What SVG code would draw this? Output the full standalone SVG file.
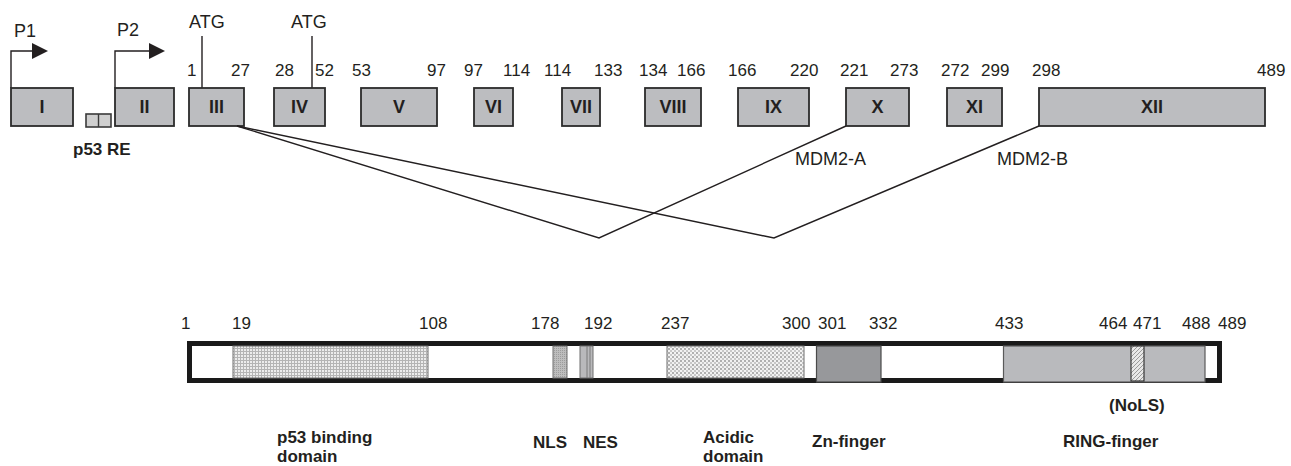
<svg xmlns="http://www.w3.org/2000/svg" width="1291" height="466" viewBox="0 0 1291 466">
<style>
.exon{fill:#bcbdc0;stroke:#2b2b2b;stroke-width:1.8}
.rn{font-family:"Liberation Sans",Arial,sans-serif;font-weight:bold;font-size:18px;fill:#231f20;text-anchor:middle}
.num{font-family:"Liberation Sans",Arial,sans-serif;font-size:17px;fill:#231f20}
.lbl{font-family:"Liberation Sans",Arial,sans-serif;font-size:18px;fill:#231f20}
.bl{font-family:"Liberation Sans",Arial,sans-serif;font-weight:bold;font-size:17px;fill:#231f20}
.ln{stroke:#231f20;stroke-width:1.4;fill:none}
.seg{stroke:#6e6e6e;stroke-width:1}
</style>
<defs>
<pattern id="grid" width="3" height="3" patternUnits="userSpaceOnUse">
<rect width="3" height="3" fill="#ececec"/>
<path d="M0 0.5H3M0.5 0V3" stroke="#b4b4b4" stroke-width="1"/>
</pattern>
<pattern id="check" width="4" height="4" patternUnits="userSpaceOnUse">
<rect width="4" height="4" fill="#f2f2f2"/>
<rect width="2" height="2" fill="#b0b0b0"/>
<rect x="2" y="2" width="2" height="2" fill="#c8c8c8"/>
</pattern>
<pattern id="hatch" width="4" height="4" patternUnits="userSpaceOnUse">
<rect width="4" height="4" fill="#e8e8e8"/>
<path d="M0 4L4 0M-1 1L1 -1M3 5L5 3" stroke="#9a9a9a" stroke-width="1"/>
</pattern>
<pattern id="dots" width="2" height="2" patternUnits="userSpaceOnUse">
<rect width="2" height="2" fill="#bdbdbd"/>
<rect width="1" height="1" fill="#9c9c9c"/>
</pattern>
</defs>

<g id="promoters">
<text class="lbl" x="14" y="37">P1</text>
<path class="ln" d="M11 88V51H32" stroke-width="1.6"/>
<path d="M32 43L48 51L32 59Z" fill="#231f20"/>
<text class="lbl" x="117" y="36">P2</text>
<path class="ln" d="M115 88V51H149" stroke-width="1.6"/>
<path d="M149 43L165 51L149 59Z" fill="#231f20"/>
</g>

<g id="atg">
<text class="lbl" x="189" y="28">ATG</text>
<line class="ln" x1="202" y1="36" x2="202" y2="88"/>
<text class="lbl" x="291" y="28">ATG</text>
<line class="ln" x1="312" y1="36" x2="312" y2="88"/>
</g>

<g id="exon-I"><rect class="exon" x="11" y="88" width="62" height="38"/><text class="rn" x="42" y="113">I</text></g>
<g id="p53RE">
<rect x="86" y="114" width="25" height="13" fill="#cfcfcf" stroke="#3a3a3a" stroke-width="1.6"/>
<line x1="98.5" y1="114" x2="98.5" y2="127" stroke="#3a3a3a" stroke-width="1.4"/>
<text class="bl" x="73" y="155">p53 RE</text>
</g>
<g id="exon-II"><rect class="exon" x="115" y="88" width="59" height="38"/><text class="rn" x="144.5" y="113">II</text></g>
<g id="exon-III"><rect class="exon" x="189" y="88" width="55" height="38"/><text class="rn" x="216.5" y="113">III</text></g>
<g id="exon-IV"><rect class="exon" x="274" y="88" width="51" height="38"/><text class="rn" x="299.5" y="113">IV</text></g>
<g id="exon-V"><rect class="exon" x="361" y="88" width="76" height="38"/><text class="rn" x="399" y="113">V</text></g>
<g id="exon-VI"><rect class="exon" x="474" y="88" width="39" height="38"/><text class="rn" x="493.5" y="113">VI</text></g>
<g id="exon-VII"><rect class="exon" x="562" y="88" width="38" height="38"/><text class="rn" x="581" y="113">VII</text></g>
<g id="exon-VIII"><rect class="exon" x="645" y="88" width="56" height="38"/><text class="rn" x="673" y="113">VIII</text></g>
<g id="exon-IX"><rect class="exon" x="738" y="88" width="71" height="38"/><text class="rn" x="773.5" y="113">IX</text></g>
<g id="exon-X"><rect class="exon" x="846" y="88" width="63" height="38"/><text class="rn" x="877.5" y="113">X</text></g>
<g id="exon-XI"><rect class="exon" x="947" y="88" width="55" height="38"/><text class="rn" x="974.5" y="113">XI</text></g>
<g id="exon-XII"><rect class="exon" x="1039" y="88" width="226" height="38"/><text class="rn" x="1152" y="113">XII</text></g>

<g id="exon-numbers">
<text class="num" x="187" y="76">1</text>
<text class="num" x="231" y="76">27</text>
<text class="num" x="275" y="76">28</text>
<text class="num" x="315" y="76">52</text>
<text class="num" x="352" y="76">53</text>
<text class="num" x="427" y="76">97</text>
<text class="num" x="464" y="76">97</text>
<text class="num" x="503" y="76">114</text>
<text class="num" x="544" y="76">114</text>
<text class="num" x="594" y="76">133</text>
<text class="num" x="639" y="76">134</text>
<text class="num" x="677" y="76">166</text>
<text class="num" x="728" y="76">166</text>
<text class="num" x="790" y="76">220</text>
<text class="num" x="840" y="76">221</text>
<text class="num" x="890" y="76">273</text>
<text class="num" x="941" y="76">272</text>
<text class="num" x="981" y="76">299</text>
<text class="num" x="1032" y="76">298</text>
<text class="num" x="1257" y="76">489</text>
</g>

<g id="connectors">
<polyline class="ln" points="237,126 599,238 846,126"/>
<polyline class="ln" points="237,126 774,238 1039,126"/>
<text class="lbl" x="795" y="165">MDM2-A</text>
<text class="lbl" x="997" y="165">MDM2-B</text>
</g>

<g id="protein">
<rect x="189.5" y="343.5" width="1030" height="37" fill="#ffffff" stroke="#1a1a1a" stroke-width="5"/>
<rect class="seg" x="233" y="346" width="195" height="32" fill="url(#grid)"/>
<rect class="seg" x="553" y="346" width="14" height="32" fill="url(#dots)"/>
<rect class="seg" x="580" y="346" width="13" height="32" fill="#b9b9bb"/>
<line x1="587" y1="346" x2="587" y2="378" stroke="#7a7a7a" stroke-width="1"/>
<line x1="590" y1="346" x2="590" y2="378" stroke="#7a7a7a" stroke-width="1"/>
<rect class="seg" x="667" y="346" width="137" height="32" fill="url(#check)"/>
<rect x="816.5" y="346" width="64.5" height="36" fill="#97989b" stroke="#4a4a4a" stroke-width="1.2"/>
<rect x="1003.5" y="346" width="201.5" height="36" fill="#b9babd" stroke="#5a5a5a" stroke-width="1.2"/>
<rect x="1131" y="346" width="13" height="35" fill="url(#hatch)" stroke="#3a3a3a" stroke-width="1.2"/>
</g>

<g id="protein-numbers">
<text class="num" x="181" y="329">1</text>
<text class="num" x="232" y="329">19</text>
<text class="num" x="419" y="329">108</text>
<text class="num" x="531" y="329">178</text>
<text class="num" x="584" y="329">192</text>
<text class="num" x="661" y="329">237</text>
<text class="num" x="782" y="329">300</text>
<text class="num" x="818" y="329">301</text>
<text class="num" x="869" y="329">332</text>
<text class="num" x="995" y="329">433</text>
<text class="num" x="1099" y="329">464</text>
<text class="num" x="1133" y="329">471</text>
<text class="num" x="1182" y="329">488</text>
<text class="num" x="1218" y="329">489</text>
</g>

<g id="domain-labels">
<text class="bl" x="277" y="443">p53 binding</text>
<text class="bl" x="277" y="462">domain</text>
<text class="bl" x="533" y="448">NLS</text>
<text class="bl" x="583" y="448">NES</text>
<text class="bl" x="703" y="443">Acidic</text>
<text class="bl" x="703" y="462">domain</text>
<text class="bl" x="812" y="447">Zn-finger</text>
<text class="bl" x="1063" y="447">RING-finger</text>
<text class="bl" x="1109" y="411">(NoLS)</text>
</g>
</svg>
